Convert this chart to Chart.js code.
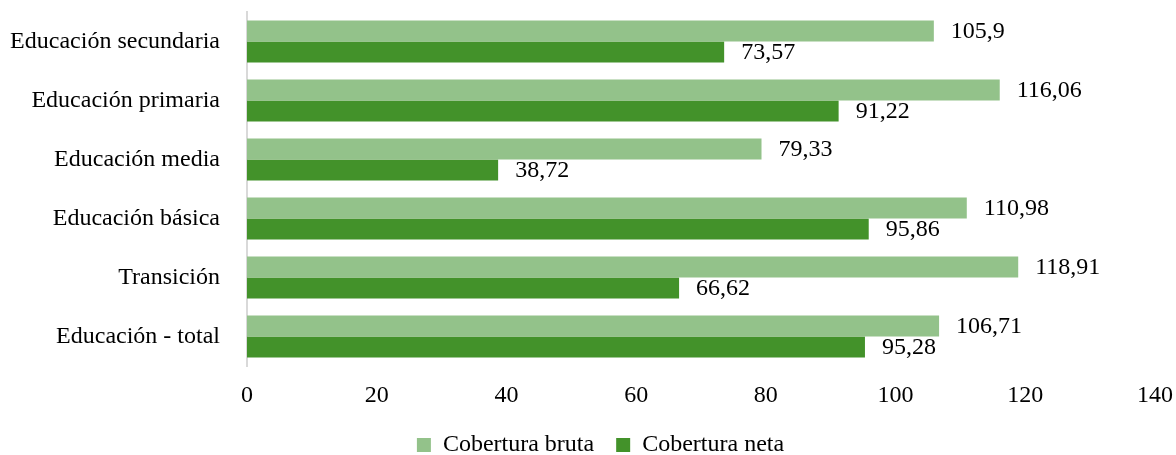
<!DOCTYPE html>
<html>
<head>
<meta charset="utf-8">
<script src="https://cdn.jsdelivr.net/npm/chart.js@4.4.1/dist/chart.umd.min.js"></script>
<style>
  body { margin: 0; background: #fff; }
  #wrap { width: 1176px; height: 455px; }
</style>
</head>
<body>
<div id="wrap"><canvas id="coverageChart" width="1176" height="455"></canvas></div>
<script>
// Categories top to bottom, as in the picture
const categories = [
    'Educación secundaria',
    'Educación primaria',
    'Educación media',
    'Educación básica',
    'Transición',
    'Educación - total'
];
const coberturaBruta = [105.9, 116.06, 79.33, 110.98, 118.91, 106.71];
const coberturaNeta = [73.57, 91.22, 38.72, 95.86, 66.62, 95.28];
const xTicks = [0, 20, 40, 60, 80, 100, 120, 140];

const serif = '"Liberation Serif", "Times New Roman", serif';
const textColor = '#000';

// Write each value next to the end of its bar, with a decimal comma
const barValueLabels = {
    id: 'barValueLabels',
    afterDatasetsDraw(chart) {
        const ctx = chart.ctx;
        ctx.save();
        ctx.font = '24px ' + serif;
        ctx.fillStyle = textColor;
        ctx.textAlign = 'left';
        ctx.textBaseline = 'middle';
        chart.data.datasets.forEach((ds, i) => {
            const meta = chart.getDatasetMeta(i);
            meta.data.forEach((bar, j) => {
                const txt = String(ds.data[j]).replace('.', ',');
                ctx.fillText(txt, bar.x + 17, bar.y + 1);
            });
        });
        ctx.restore();
    }
};

// The legend in the original sits a little right of the canvas centre
const legendShift = {
    id: 'legendShift',
    afterLayout(chart) {
        chart.legend.left += 23;
        chart.legend.right += 23;
    }
};

const ctx = document.getElementById('coverageChart').getContext('2d');
const coverageChart = new Chart(ctx, {
    type: 'bar',
    data: {
        labels: categories,
        datasets: [{
            label: 'Cobertura bruta',
            data: coberturaBruta,
            backgroundColor: '#93c28a'
        }, {
            label: 'Cobertura neta',
            data: coberturaNeta,
            backgroundColor: '#43922a'
        }]
    },
    options: {
        indexAxis: 'y',
        responsive: false,
        animation: false,
        categoryPercentage: 0.71,
        barPercentage: 1.0,
        layout: {
            padding: { top: 12, right: 21, left: 0, bottom: -12 }
        },
        scales: {
            x: {
                min: 0,
                max: 140,
                afterBuildTicks: (scale) => {
                    scale.ticks = xTicks.map(v => ({ value: v }));
                },
                afterFit: (scale) => {
                    scale.height = 45;
                    scale.paddingRight = 0;
                },
                grid: { display: false },
                border: { display: false },
                ticks: {
                    padding: 7,
                    color: textColor,
                    font: { family: serif, size: 24, lineHeight: 1.2 }
                }
            },
            y: {
                afterFit: (scale) => { scale.width = 247; },
                grid: {
                    display: true,
                    drawOnChartArea: false,
                    drawTicks: true,
                    tickLength: 27,
                    tickColor: 'rgba(0,0,0,0)'
                },
                border: { display: true, color: '#d9d9d9', width: 2 },
                ticks: {
                    padding: 0,
                    color: textColor,
                    font: { family: serif, size: 24, lineHeight: 1 }
                }
            }
        },
        plugins: {
            legend: {
                position: 'bottom',
                labels: {
                    boxWidth: 14,
                    boxHeight: 14,
                    padding: 22,
                    color: textColor,
                    font: { family: serif, size: 24 }
                }
            },
            tooltip: { enabled: false }
        }
    },
    plugins: [barValueLabels, legendShift]
});
</script>
</body>
</html>
